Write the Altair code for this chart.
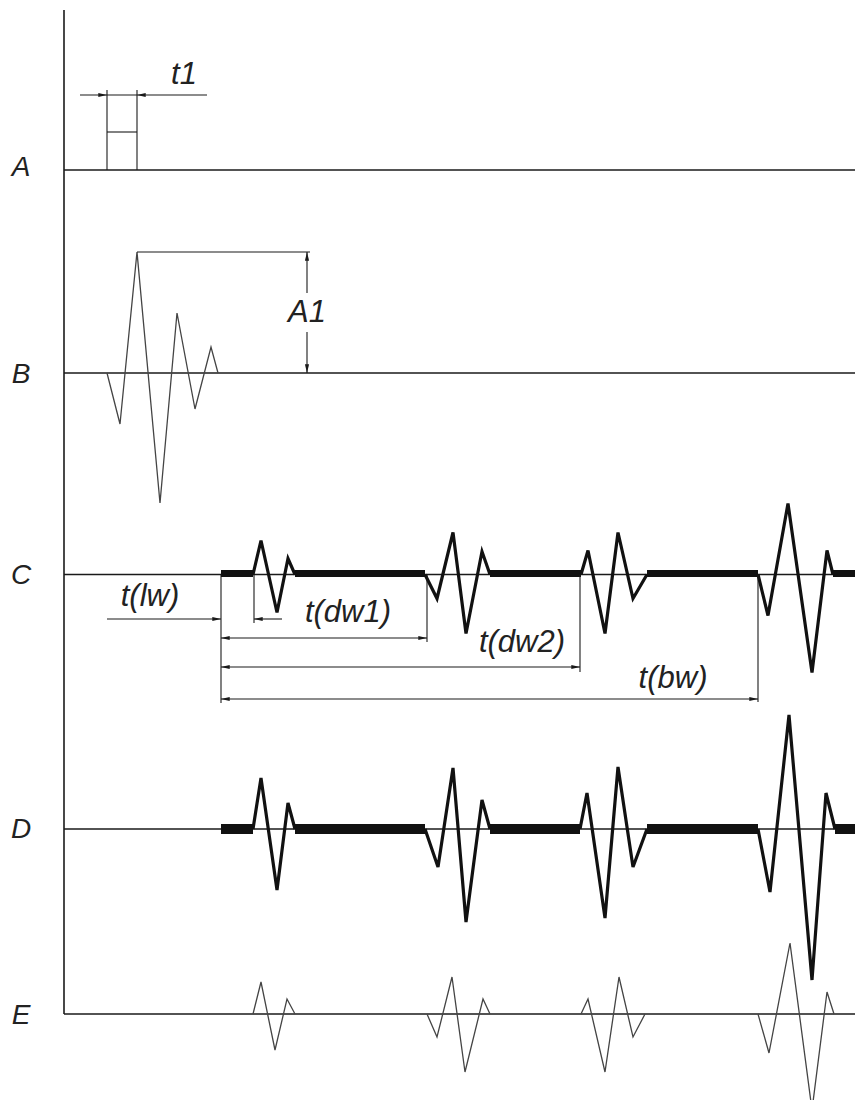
import altair as alt
import pandas as pd

# ---------------- data (drawing units: x = time, y = screen position downward) ----------
channels = ["A", "B", "C", "D", "E"]
baselines = [170, 373, 574.5, 829, 1014]
label_x = 21
label_y = [168, 375, 576, 830, 1016]
axis_left = 64
axis_top = 10
x_end = 863

# A : rectangular excitation pulse
a_left, a_right = 107, 137
a_top, a_mid = 90, 132

# B : probe pulse, amplitude positive upwards
b_t = [107, 120, 137, 160, 177, 195, 211, 218]
b_amp = [0, -51, 121, -130, 60, -36, 26, 0]

# C : received signal (pulses), amplitude positive upwards
c_p1_t = [253, 261, 277, 288, 295]
c_p1_a = [0, 34, -38, 16, 0]
c_p2_t = [425, 437, 453, 466, 482, 490]
c_p2_a = [0, -24, 42, -59, 23, 0]
c_p3_t = [581, 588, 605, 618, 633, 647]
c_p3_a = [0, 24, -59, 42, -24, 0]
c_p4_t = [758, 768, 788, 812, 827, 833]
c_p4_a = [0, -41, 71, -98, 24, 0]
c_noise_start = [221, 295, 490, 647, 833]
c_noise_end = [253, 425, 581, 758, 863]

# D : received signal with noise
d_p1_t = [253, 261, 277, 288, 295]
d_p1_a = [0, 51, -61, 26, 0]
d_p2_t = [425, 438, 453, 466, 482, 490]
d_p2_a = [0, -38, 61, -93, 29, 0]
d_p3_t = [580, 587, 605, 618, 633, 647]
d_p3_a = [0, 36, -89, 62, -38, 0]
d_p4_t = [758, 770, 789, 812, 826, 835]
d_p4_a = [0, -63, 114, -151, 36, 0]
d_noise_start = [221, 295, 490, 647, 835]
d_noise_end = [253, 425, 580, 758, 863]

# E : filtered signal
e_p1_t = [253, 261, 275, 287, 295]
e_p1_a = [0, 32, -36, 15, 0]
e_p2_t = [427, 437, 452, 465, 483, 490]
e_p2_a = [0, -23, 37, -58, 15, 0]
e_p3_t = [581, 588, 605, 619, 633, 645]
e_p3_a = [0, 15, -58, 37, -23, 0]
e_p4_t = [758, 769, 790, 812, 827, 834]
e_p4_a = [0, -39, 71, -96, 22, 0]

# dimension annotations
t1_line = (80, 207, 95)
a1_x, a1_top, a1_gap = 307, 252, (293, 332)
a1_leader_end = 310
tlw_y = 619
tlw_left_start, tlw_right_end = 107, 282
tlw_ext_x = 254
dim_start = 221
dim_start_bottom = 703
dim_names = ["t(dw1)", "t(dw2)", "t(bw)"]
dim_y = [638, 667, 699]
dim_end = [427, 580, 758]
dim_ext_bottom = [642, 672, 702]

text_labels = ["t1", "A1", "t(lw)", "t(dw1)", "t(dw2)", "t(bw)"]
text_x = [184, 307, 150, 348, 522, 673]
text_y = [75, 313, 597, 613, 643, 679]

# ---------------- tables -------------------------------------------------------------
def trace(name, ts, amps, base):
    return pd.DataFrame({"x": ts, "y": [base - a for a in amps], "s": name,
                         "o": list(range(len(ts)))})

thin_wave = pd.concat([
    trace("B", b_t, b_amp, baselines[1]),
    trace("E1", e_p1_t, e_p1_a, baselines[4]),
    trace("E2", e_p2_t, e_p2_a, baselines[4]),
    trace("E3", e_p3_t, e_p3_a, baselines[4]),
    trace("E4", e_p4_t, e_p4_a, baselines[4]),
])
thick_wave = pd.concat([
    trace("C1", c_p1_t, c_p1_a, baselines[2]),
    trace("C2", c_p2_t, c_p2_a, baselines[2]),
    trace("C3", c_p3_t, c_p3_a, baselines[2]),
    trace("C4", c_p4_t, c_p4_a, baselines[2]),
    trace("D1", d_p1_t, d_p1_a, baselines[3]),
    trace("D2", d_p2_t, d_p2_a, baselines[3]),
    trace("D3", d_p3_t, d_p3_a, baselines[3]),
    trace("D4", d_p4_t, d_p4_a, baselines[3]),
])

noise_c = pd.DataFrame({"x": c_noise_start, "x2": c_noise_end,
                        "y": [baselines[2] - 1] * len(c_noise_start)})
noise_d = pd.DataFrame({"x": d_noise_start, "x2": d_noise_end,
                        "y": [baselines[3]] * len(d_noise_start)})

main_rules = pd.DataFrame(
    {"x": [axis_left] + [axis_left] * 5,
     "x2": [axis_left] + [x_end] * 5,
     "y": [axis_top] + baselines,
     "y2": [baselines[4]] + baselines})

dim_rules = [
    (a_left, a_left, a_top, baselines[0]),
    (a_right, a_right, a_top, baselines[0]),
    (a_left, a_right, a_mid, a_mid),
    (t1_line[0], t1_line[1], t1_line[2], t1_line[2]),
    (b_t[2], a1_leader_end, a1_top, a1_top),
    (a1_x, a1_x, a1_top, a1_gap[0]),
    (a1_x, a1_x, a1_gap[1], baselines[1]),
    (dim_start, dim_start, baselines[2], dim_start_bottom),
    (tlw_left_start, dim_start, tlw_y, tlw_y),
    (tlw_ext_x, tlw_right_end, tlw_y, tlw_y),
    (tlw_ext_x, tlw_ext_x, baselines[2], tlw_y + 4),
]
for yy, xe, yb in zip(dim_y, dim_end, dim_ext_bottom):
    dim_rules.append((dim_start, xe, yy, yy))
    dim_rules.append((xe, xe, baselines[2], yb))
dim_df = pd.DataFrame(dim_rules, columns=["x", "x2", "y", "y2"])

arrows = pd.DataFrame({
    "x": [a_left, a_right, a1_x, a1_x, dim_start, tlw_ext_x]
         + [dim_start] * 3 + dim_end,
    "y": [t1_line[2], t1_line[2], a1_top, baselines[1], tlw_y, tlw_y]
         + dim_y + dim_y,
    "d": ["r", "l", "u", "d", "r", "l"] + ["l"] * 3 + ["r"] * 3,
})

texts = pd.DataFrame({"x": text_x, "y": text_y, "t": text_labels})
chan = pd.DataFrame({"x": [label_x] * 5, "y": label_y, "t": channels})

# ---------------- chart ------------------------------------------------------------
xs = alt.Scale(domain=[8, 855])
ys = alt.Scale(domain=[8, 1100], reverse=True)
X = alt.X("x:Q", scale=xs, axis=None)
Y = alt.Y("y:Q", scale=ys, axis=None)
INK = "#1a1a1a"

rules_main = alt.Chart(main_rules).mark_rule(color=INK, strokeWidth=1.6).encode(
    x=X, x2="x2:Q", y=Y, y2="y2:Q")
rules_dim = alt.Chart(dim_df).mark_rule(color=INK, strokeWidth=1.1).encode(
    x=X, x2="x2:Q", y=Y, y2="y2:Q")

band_c = alt.Chart(noise_c).mark_rule(color="#111", strokeWidth=7).encode(
    x=X, x2="x2:Q", y=Y)
band_d = alt.Chart(noise_d).mark_rule(color="#111", strokeWidth=10).encode(
    x=X, x2="x2:Q", y=Y)

thin = alt.Chart(thin_wave).mark_line(color="#444", strokeWidth=1.3).encode(
    x=X, y=Y, detail="s:N", order="o:Q")
thick = alt.Chart(thick_wave).mark_line(color="#111", strokeWidth=3.2,
                                       strokeJoin="miter").encode(
    x=X, y=Y, detail="s:N", order="o:Q")

paths = ["M0,0L-1,-0.24L-1,0.24Z", "M0,0L1,-0.24L1,0.24Z",
         "M0,0L-0.24,1L0.24,1Z", "M0,0L-0.24,-1L0.24,-1Z"]
arrow_layer = alt.Chart(arrows).mark_point(filled=True, opacity=1, color=INK,
                                           size=300, strokeWidth=0).encode(
    x=X, y=Y,
    shape=alt.Shape("d:N", scale=alt.Scale(domain=["r", "l", "u", "d"], range=paths),
                    legend=None))

font = "Liberation Sans"
txt = alt.Chart(texts).mark_text(font=font, fontStyle="italic", fontSize=31,
                                 color="#222", align="center",
                                 baseline="middle").encode(x=X, y=Y, text="t:N")
chan_txt = alt.Chart(chan).mark_text(font=font, fontStyle="italic", fontSize=28,
                                     color="#222", align="center",
                                     baseline="middle").encode(x=X, y=Y, text="t:N")

chart = alt.layer(rules_main, band_c, band_d, thin, thick, rules_dim, arrow_layer,
                  txt, chan_txt).properties(
    width=847, height=1092, padding=0,
    autosize=alt.AutoSizeParams(type="none"),
    background="white",
).configure_view(stroke=None)

chart.save("out.html", embed_options={"renderer": "svg", "actions": False})
